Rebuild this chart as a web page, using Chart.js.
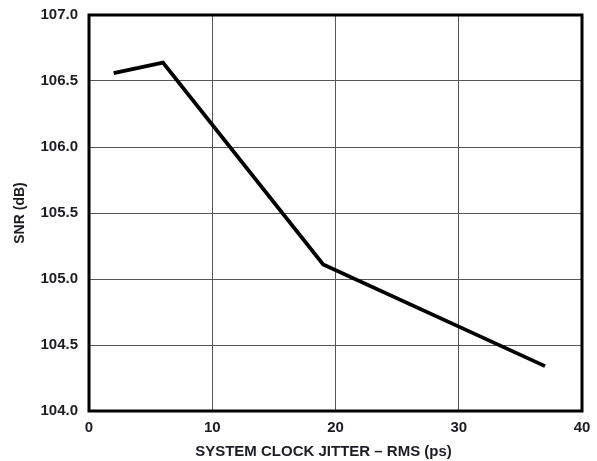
<!DOCTYPE html>
<html>
<head>
<meta charset="utf-8">
<script src="https://cdn.jsdelivr.net/npm/chart.js@4/dist/chart.umd.min.js"></script>
<style>
  html, body { margin: 0; padding: 0; background: #fff; }
  #wrap { width: 597px; height: 461px; }
</style>
</head>
<body>
<div id="wrap"><canvas id="c" width="597" height="461"></canvas></div>
<script>
// SNR versus RMS system clock jitter
const jitterPs = [2, 6, 19, 37];
const snrDb = [106.56, 106.64, 105.11, 104.34];
const xTicks = [0, 10, 20, 30, 40];
const yTicks = [104.0, 104.5, 105.0, 105.5, 106.0, 106.5, 107.0];
const xTitle = 'SYSTEM CLOCK JITTER – RMS (ps)';

const FONT = "'Liberation Sans', Arial, Helvetica, sans-serif";
const INK = '#1c1c26';

// Heavy frame around the plot area, plus the x-axis caption
const framePlugin = {
  id: 'frame',
  afterDatasetsDraw(chart) {
    const { ctx, chartArea: a } = chart;
    ctx.save();
    ctx.strokeStyle = '#000';
    ctx.lineWidth = 3;
    ctx.strokeRect(a.left, a.top, a.right - a.left, a.bottom - a.top);
    ctx.restore();
  },
  afterDraw(chart) {
    const { ctx, chartArea: a } = chart;
    ctx.save();
    ctx.fillStyle = INK;
    ctx.font = 'bold 15px ' + FONT;
    ctx.textAlign = 'center';
    ctx.textBaseline = 'middle';
    ctx.fillText(xTitle, (a.left + a.right) / 2 - 12, a.bottom + 41);
    ctx.restore();
  }
};

new Chart(document.getElementById('c'), {
  type: 'line',
  data: {
    datasets: [{
      data: jitterPs.map((x, i) => ({ x, y: snrDb[i] })),
      borderColor: '#000',
      borderWidth: 3.8,
      pointRadius: 0,
      tension: 0,
      fill: false
    }]
  },
  options: {
    responsive: false,
    animation: false,
    events: [],
    layout: { padding: { top: 15, right: 15, left: 0, bottom: 0 } },
    plugins: { legend: { display: false }, tooltip: { enabled: false } },
    scales: {
      x: {
        type: 'linear',
        min: xTicks[0],
        max: xTicks[xTicks.length - 1],
        afterBuildTicks(s) { s.ticks = xTicks.map(v => ({ value: v })); },
        afterFit(s) { s.height = 50; s.paddingLeft = 0; s.paddingRight = 0; },
        grid: { color: '#555', lineWidth: 1, drawTicks: false },
        border: { display: false },
        ticks: {
          color: INK,
          padding: 8,
          maxRotation: 0,
          font: { family: FONT, size: 15, weight: 'bold' },
          callback: v => String(v)
        }
      },
      y: {
        type: 'linear',
        min: yTicks[0],
        max: yTicks[yTicks.length - 1],
        afterBuildTicks(s) { s.ticks = yTicks.map(v => ({ value: v })); },
        afterFit(s) { s.width = 89; s.paddingTop = 0; s.paddingBottom = 0; },
        grid: { color: '#555', lineWidth: 1, drawTicks: false },
        border: { display: false },
        ticks: {
          color: INK,
          padding: 11,
          font: { family: FONT, size: 15, weight: 'bold' },
          callback: v => v.toFixed(1)
        },
        title: {
          display: true,
          text: 'SNR (dB)',
          color: INK,
          padding: { top: 12, bottom: 0 },
          font: { family: FONT, size: 14, weight: 'bold' }
        }
      }
    }
  },
  plugins: [framePlugin]
});
</script>
</body>
</html>
